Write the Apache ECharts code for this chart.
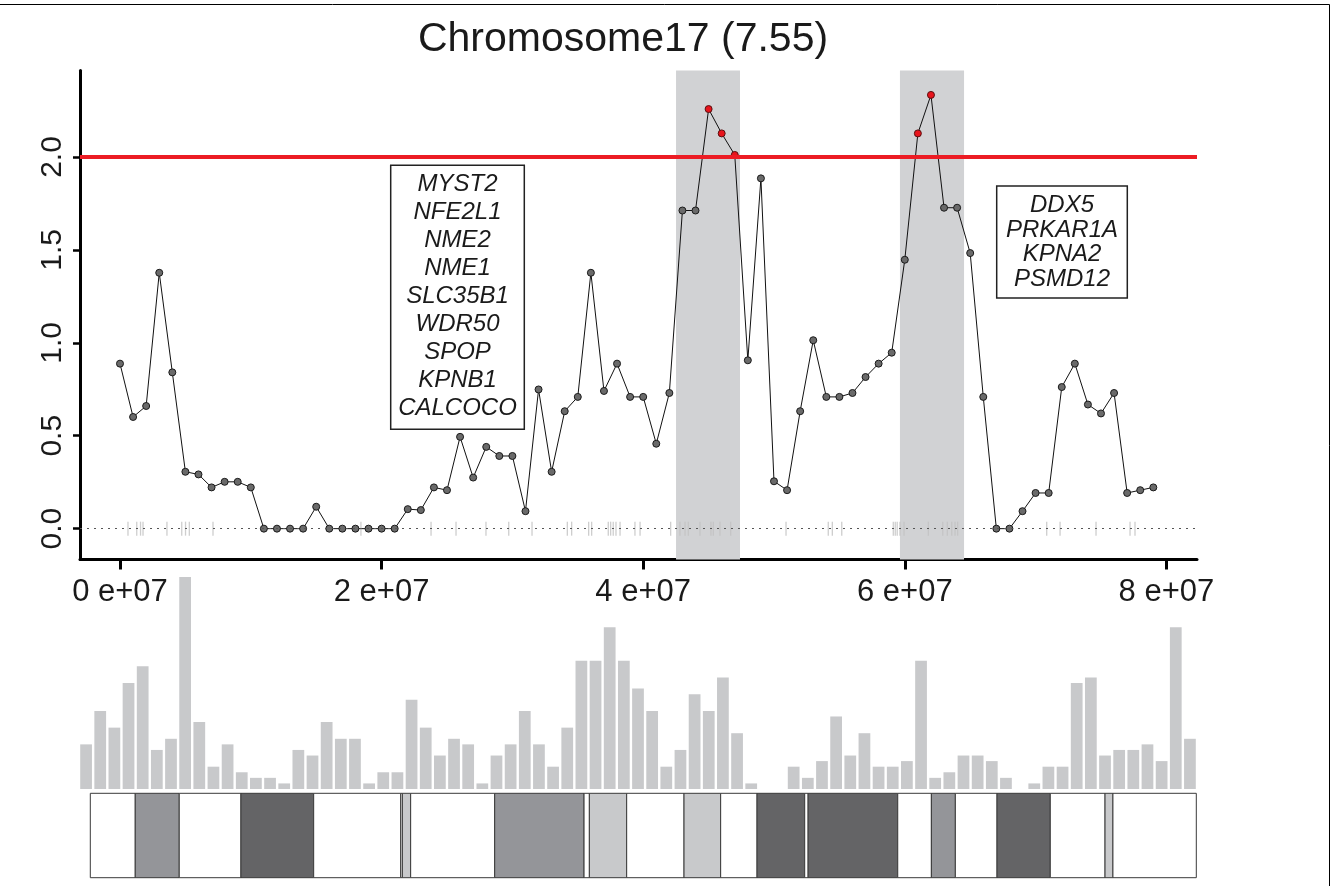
<!DOCTYPE html>
<html><head><meta charset="utf-8">
<script src="https://cdn.jsdelivr.net/npm/echarts@6/dist/echarts.min.js"></script>
<style>html,body{margin:0;padding:0;background:#fff}#c{width:1333px;height:886px}</style>
</head><body><div id="c"></div>
<script>
// ---- data ----
const positionsMb = [0,1,2,3,4,5,6,7,8,9,10,11,12,13,14,15,16,17,18,19,20,21,22,23,24,25,26,27,28,29,30,31,32,33,34,35,36,37,38,39,40,41,42,43,44,45,46,47,48,49,50,51,52,53,54,55,56,57,58,59,60,61,62,63,64,65,66,67,68,69,70,71,72,73,74,75,76,77,78,79];
const ratios = [0.888,0.601,0.660,1.377,0.841,0.306,0.292,0.222,0.252,0.252,0.222,0,0,0,0,0.118,0,0,0,0,0,0,0.105,0.100,0.222,0.207,0.494,0.275,0.440,0.391,0.391,0.094,0.749,0.306,0.632,0.709,1.377,0.741,0.888,0.709,0.709,0.457,0.730,1.712,1.712,2.258,2.127,2.011,0.906,1.885,0.255,0.207,0.632,1.014,0.709,0.709,0.730,0.816,0.888,0.947,1.447,2.127,2.334,1.727,1.727,1.483,0.709,0,0,0.094,0.192,0.192,0.762,0.888,0.668,0.620,0.730,0.192,0.207,0.222];
const threshold = 2.0;
const xTicks = [0, 2e7, 4e7, 6e7, 8e7];
const yTicks = [0, 0.5, 1.0, 1.5, 2.0];
const shadedRegionsMb = [[42.51, 47.40], [59.63, 64.53]];
const rugPositionsMb = [0.61,1.28,1.57,1.76,3.59,4.72,5.01,5.30,7.11,18.42,23.78,25.69,27.98,29.72,31.50,34.20,34.53,35.83,36.06,37.33,37.51,37.71,37.92,38.23,39.37,39.76,42.10,42.81,43.20,43.45,44.34,45.18,45.36,45.87,46.69,50.92,54.15,54.46,55.18,59.12,59.27,59.42,59.63,59.94,61.80,62.90,63.25,63.59,63.84,64.04,70.85,71.87,74.62,77.22,77.60];
const genesBox1 = ['MYST2','NFE2L1','NME2','NME1','SLC35B1','WDR50','SPOP','KPNB1','CALCOCO'];
const genesBox2 = ['DDX5','PRKAR1A','KPNA2','PSMD12'];
const binCounts = [8,14,11,19,22,7,9,38,12,4,8,3,2,2,1,7,6,12,9,9,1,3,3,16,11,6,9,8,1,6,8,14,8,4,11,23,23,29,23,18,14,4,7,17,14,20,10,1,0,0,4,2,5,13,6,10,4,4,5,23,2,3,6,6,5,2,0,1,4,4,19,20,6,7,7,8,5,29,9];
const bandStarts = [0,3.30,6.53,11.06,16.40,22.79,22.91,23.52,29.69,36.25,36.64,39.38,43.59,46.28,48.95,52.45,52.70,59.28,61.75,63.51,66.57,70.48,74.50,75.08];
const bandEnds   = [3.30,6.53,11.06,16.40,22.79,22.91,23.52,29.69,36.25,36.64,39.38,43.59,46.28,48.95,52.45,52.70,59.28,61.75,63.51,66.57,70.48,74.50,75.08,81.20];
const bandStains = ['gneg','gpos50','gneg','gpos75','gneg','gneg','gpos25','gneg','gpos50','gneg','gpos25','gneg','gpos25','gneg','gpos75','gneg','gpos75','gneg','gpos50','gneg','gpos75','gneg','gpos25','gneg'];
const stainColors = {gneg:'#ffffff', gpos25:'#c8c9cb', gpos50:'#949599', gpos75:'#646466'};
const titleText = 'Chromosome17 (7.55)';

// ---- chart ----
const chart = echarts.init(document.getElementById('c'), null, {renderer:'canvas'});
const FONT = 'Liberation Sans, Arial, Helvetica, sans-serif';

const lineData = positionsMb.map((p, i) => ({
  value: [p * 1e6, ratios[i]],
  itemStyle: ratios[i] >= threshold ? {color:'#e8141c', borderColor:'#5a1010', borderWidth:1} : {color:'#6a6a6a', borderColor:'#1a1a1a', borderWidth:1}
}));

const option = {
  animation: false,
  backgroundColor: '#fff',
  grid: [
    {left: 80, top: 70.4, width: 1117, height: 489.1},
    {left: 79, top: 577, width: 1118, height: 212},
    {left: 90.3, top: 793.3, width: 1106, height: 84.4}
  ],
  xAxis: [
    {type:'value', gridIndex:0, min:-3.058e6, max:82.34e6,
     axisLine:{show:true, onZero:false, lineStyle:{color:'#000', width:3}},
     axisTick:{show:true, customValues:xTicks, length:10, lineStyle:{color:'#000', width:3}},
     axisLabel:{customValues:xTicks, formatter:v => (v/1e7) + ' e+07', fontSize:31, fontFamily:FONT, color:'#1a1a1a', margin:17},
     splitLine:{show:false}},
    {type:'category', gridIndex:1, data: binCounts.map((_, i) => String(i+1)), show:false, boundaryGap:true},
    {type:'value', gridIndex:2, min:0, max:81.2, show:false}
  ],
  yAxis: [
    {type:'value', gridIndex:0, min:-0.166, max:2.466,
     axisLine:{show:true, onZero:false, lineStyle:{color:'#000', width:3}},
     axisTick:{show:true, customValues:yTicks, length:7, lineStyle:{color:'#000', width:2.5}},
     axisLabel:{customValues:yTicks, formatter:v => v.toFixed(1), fontSize:30, fontFamily:FONT, color:'#1a1a1a', rotate:90, margin:12},
     splitLine:{show:false}},
    {type:'value', gridIndex:1, min:0, max:38, show:false},
    {type:'value', gridIndex:2, min:0, max:1, show:false}
  ],
  series: [
    {type:'scatter', xAxisIndex:0, yAxisIndex:0, z:2, silent:true,
     symbol:'rect', symbolSize:[1.3, 14],
     itemStyle:{color:'#c2c2c2'},
     data: rugPositionsMb.map(p => [p*1e6, 0]),
     markArea:{silent:true, itemStyle:{color:'#d1d2d4'},
       data: shadedRegionsMb.map(r => [{xAxis:r[0]*1e6}, {xAxis:r[1]*1e6}])}
    },
    {type:'line', xAxisIndex:0, yAxisIndex:0, z:4, silent:true,
     symbol:'circle', symbolSize:7, showAllSymbol:true,
     lineStyle:{color:'#111', width:1},
     data: lineData,
     markLine:{silent:true, symbol:['none','none'], label:{show:false},
       data:[
         {yAxis:threshold, lineStyle:{color:'#ec1c24', width:4, type:'solid'}},
         {yAxis:0, lineStyle:{color:'#555', width:1.2, type:[2,5]}}
       ]}
    },
    {type:'bar', xAxisIndex:1, yAxisIndex:1, silent:true,
     barCategoryGap:'17%', itemStyle:{color:'#c8c9cb'},
     data: binCounts},
    {type:'custom', xAxisIndex:2, yAxisIndex:2, silent:true,
     data: bandStarts.map((s, i) => [s, bandEnds[i]]),
     encode:{x:[0,1]},
     renderItem:(params, api) => {
       const p0 = api.coord([api.value(0), 1]);
       const p1 = api.coord([api.value(1), 0]);
       return {type:'rect', shape:{x:p0[0], y:p0[1], width:p1[0]-p0[0], height:p1[1]-p0[1]},
         style:{fill: stainColors[bandStains[params.dataIndex]], stroke:'#3a3a3a', lineWidth:1}};
     }}
  ],
  graphic: [
    {type:'line', shape:{x1:0, y1:4.5, x2:1329.5, y2:4.5}, style:{stroke:'#000', lineWidth:1}},
    {type:'line', shape:{x1:1329.5, y1:4.5, x2:1329.5, y2:886}, style:{stroke:'#000', lineWidth:1}},
    {type:'text', x:623, y:40, style:{text:titleText, fontSize:41, fontFamily:FONT, fill:'#1a1a1a', textAlign:'center', textVerticalAlign:'middle'}},
    {type:'rect', shape:{x:390.7, y:165.3, width:133.6, height:264}, style:{fill:'#fff', stroke:'#222', lineWidth:1.5}, z:10},
    {type:'text', x:457.5, y:296.5, z:11, style:{text:genesBox1.join('\n'), fontSize:24, fontStyle:'italic', fontFamily:FONT, fill:'#1a1a1a', textAlign:'center', textVerticalAlign:'middle', lineHeight:28}},
    {type:'rect', shape:{x:996.7, y:186, width:130.6, height:112}, style:{fill:'#fff', stroke:'#222', lineWidth:1.5}, z:10},
    {type:'text', x:1062, y:242.5, z:11, style:{text:genesBox2.join('\n'), fontSize:24, fontStyle:'italic', fontFamily:FONT, fill:'#1a1a1a', textAlign:'center', textVerticalAlign:'middle', lineHeight:24.5}}
  ]
};
chart.setOption(option);
</script></body></html>
